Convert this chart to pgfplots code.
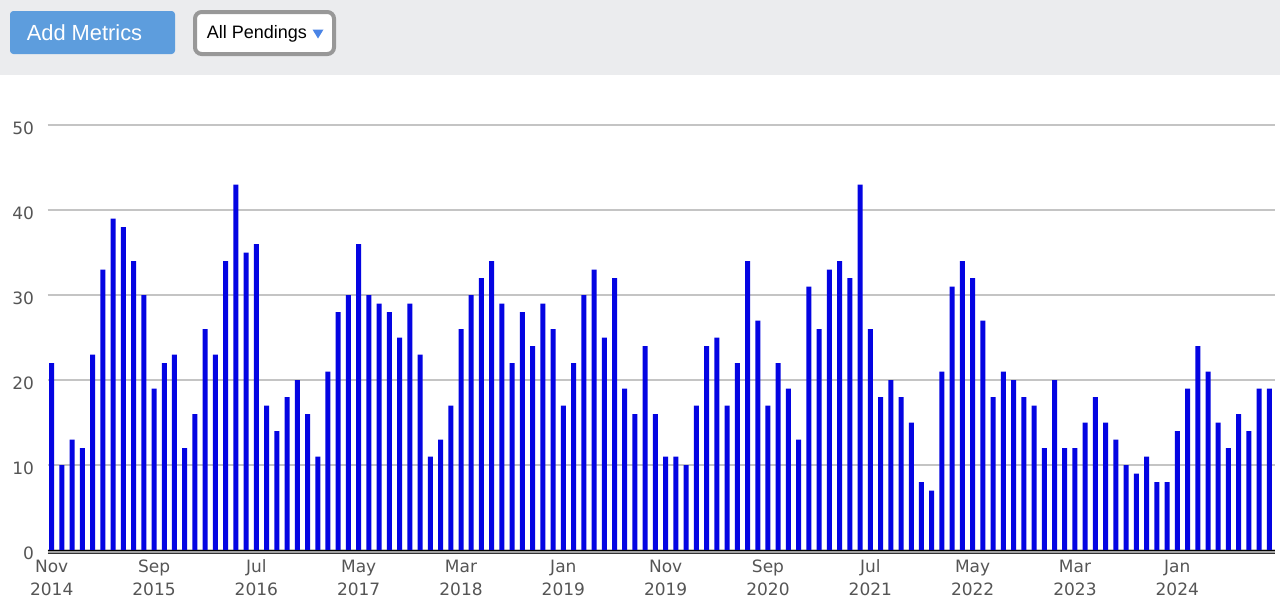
\documentclass[border=0pt]{standalone}
\usepackage{fontspec}
\setmainfont{DejaVu Sans}
\newfontfamily\arial{Liberation Sans}
\usepackage{pgfplots}
\pgfplotsset{compat=1.18}
\usepackage{pgfplotstable}

\definecolor{barblue}{RGB}{4,4,226}
\definecolor{bandgray}{RGB}{235,236,238}
\definecolor{btnblue}{RGB}{93,157,221}
\definecolor{ddgray}{RGB}{152,152,152}
\definecolor{triblue}{RGB}{74,132,230}
\definecolor{gridgray}{RGB}{196,196,196}
\definecolor{labelgray}{RGB}{85,85,85}
\definecolor{axisgray}{RGB}{160,160,160}

% monthly pending counts, Nov 2014 (m=1) to Oct 2024 (m=120)
\pgfplotstableread{
m v
1 22
2 10
3 13
4 12
5 23
6 33
7 39
8 38
9 34
10 30
11 19
12 22
13 23
14 12
15 16
16 26
17 23
18 34
19 43
20 35
21 36
22 17
23 14
24 18
25 20
26 16
27 11
28 21
29 28
30 30
31 36
32 30
33 29
34 28
35 25
36 29
37 23
38 11
39 13
40 17
41 26
42 30
43 32
44 34
45 29
46 22
47 28
48 24
49 29
50 26
51 17
52 22
53 30
54 33
55 25
56 32
57 19
58 16
59 24
60 16
61 11
62 11
63 10
64 17
65 24
66 25
67 17
68 22
69 34
70 27
71 17
72 22
73 19
74 13
75 31
76 26
77 33
78 34
79 32
80 43
81 26
82 18
83 20
84 18
85 15
86 8
87 7
88 21
89 31
90 34
91 32
92 27
93 18
94 21
95 20
96 18
97 17
98 12
99 20
100 12
101 12
102 15
103 18
104 15
105 13
106 10
107 9
108 11
109 8
110 8
111 14
112 19
113 24
114 21
115 15
116 12
117 16
118 14
119 19
120 19
}\pending

\begin{document}
\begin{tikzpicture}
% page furniture, in pixel units (1px = 0.75pt, y downwards)
\begin{scope}[x=0.75pt,y=-0.75pt]
\fill[white] (0,0) rectangle (1280,612);
\path[use as bounding box] (0,0) rectangle (1280,612);
\fill[bandgray] (0,0) rectangle (1280,75);
\fill[btnblue, rounded corners=2.5pt] (10,11) rectangle (175,54);
\node[anchor=base west, inner sep=0pt, text=white,
      font=\arial\fontsize{16.4}{18}\selectfont] at (26.5,40) {Add Metrics};
\draw[ddgray, line width=3pt, fill=white, rounded corners=5pt] (195,12) rectangle (334,54);
\node[anchor=base west, inner sep=0pt, text=black,
      font=\arial\fontsize{13.5}{16}\selectfont] at (206.5,38.5) {All Pendings};
\fill[triblue] (312.5,29.5) -- (323.5,29.5) -- (318,38.5) -- cycle;
\end{scope}

\begin{axis}[
  at={(35.625pt,-412.5pt)}, anchor=south west,
  scale only axis, width=920.25pt, height=318.75pt,
  xmin=0.59, xmax=120.5, ymin=0, ymax=50,
  ybar, bar width=3.75pt, bar shift=0pt,
  axis line style={draw=none},
  ytick={0,10,...,50},
  ymajorgrids, grid style={gridgray, line width=0.9pt},
  xtick={1,11,...,111},
  xticklabels={{\strut Nov\\2014},{\strut Sep\\2015},{\strut Jul\\2016},{\strut May\\2017},
               {\strut Mar\\2018},{\strut Jan\\2019},{\strut Nov\\2019},{\strut Sep\\2020},
               {\strut Jul\\2021},{\strut May\\2022},{\strut Mar\\2023},{\strut Jan\\2024}},
  major tick length=0pt,
  tick label style={text=labelgray, font=\fontsize{12.75}{17.25}\selectfont},
  xticklabel style={align=center, anchor=north, inner sep=0pt, yshift=-4.6pt},
  yticklabel style={anchor=east, inner sep=0pt, xshift=-9.9pt, yshift=-2.25pt},
  /pgf/number format/assume math mode=true,
]
\addplot[fill=barblue, draw=none] table[x=m, y=v] {\pending};
\end{axis}

% double base line under the bars
\begin{scope}[x=0.75pt,y=-0.75pt]
\fill[axisgray] (47.5,550) rectangle (1274.5,553.8);
\draw[black, line width=1.1pt] (47.5,550.3) -- (1274.5,550.3);
\draw[black!80, line width=0.6pt] (47.5,553.6) -- (1274.5,553.6);
\end{scope}
\end{tikzpicture}
\end{document}
